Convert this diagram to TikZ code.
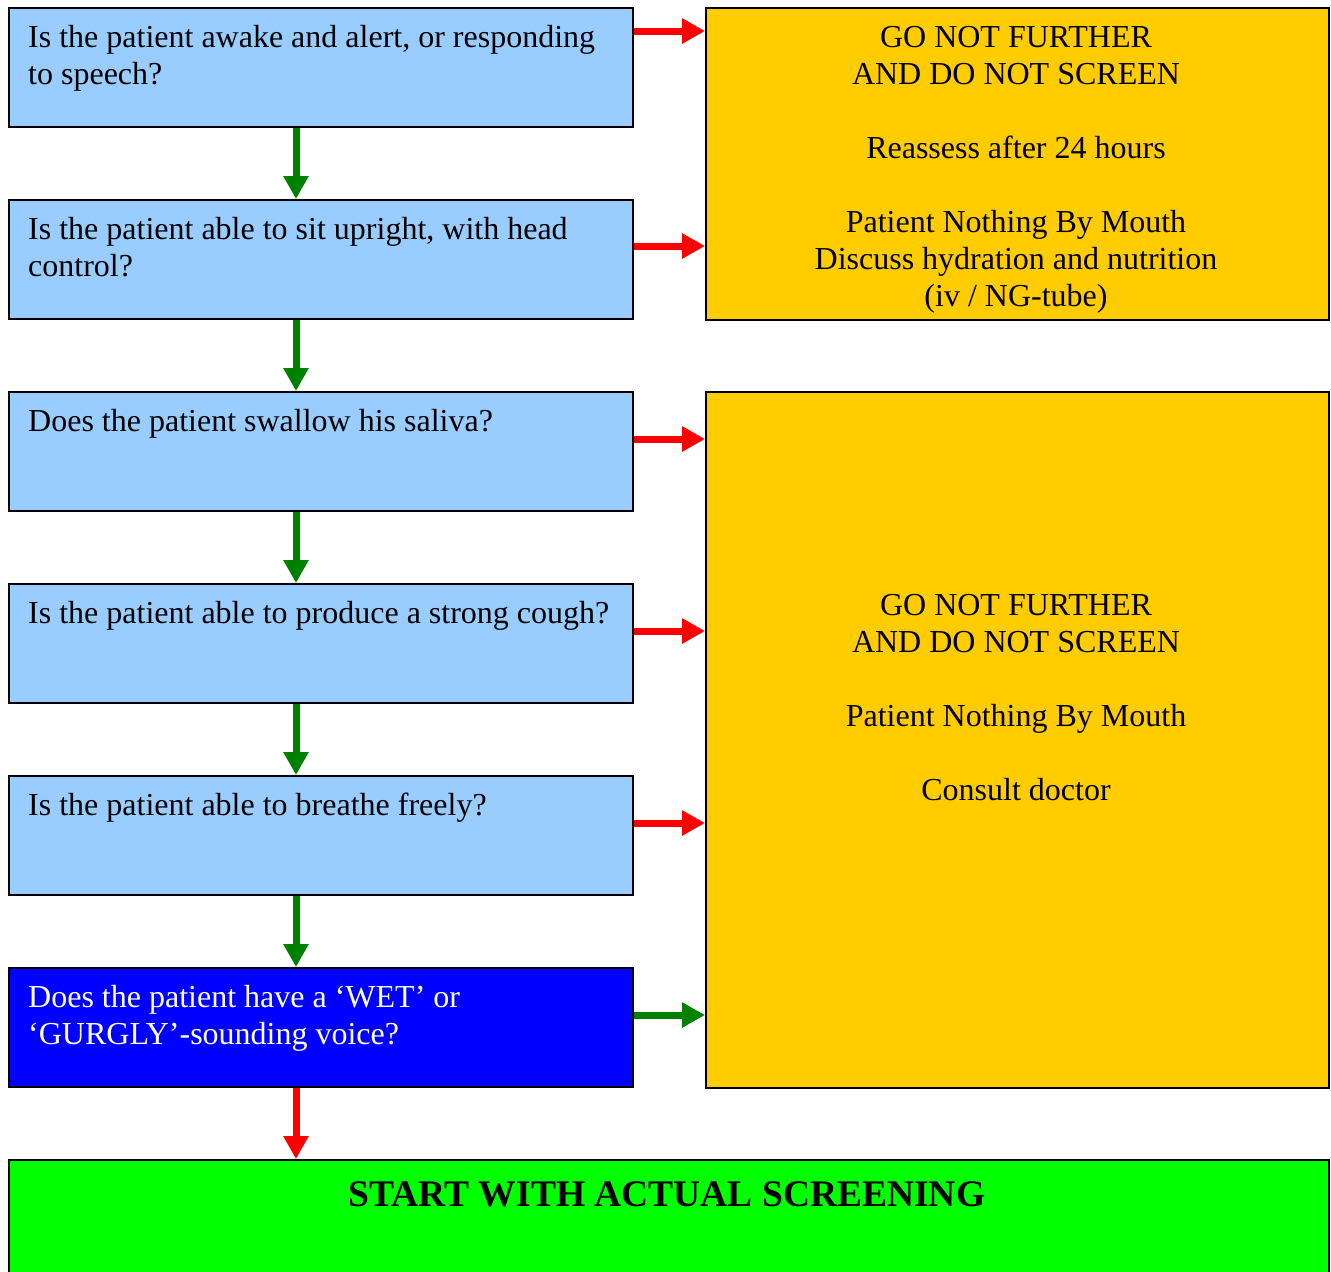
\documentclass[tikz,border=0pt]{standalone}
\usepackage{fontspec}
\setmainfont{Liberation Serif}
\usetikzlibrary{arrows.meta,calc}
\definecolor{qblue}{HTML}{99CCFF}
\definecolor{dblue}{HTML}{0000FF}
\definecolor{stopor}{HTML}{FFCC00}
\definecolor{gogreen}{HTML}{00FF00}
\definecolor{arrred}{HTML}{FF0000}
\definecolor{arrgreen}{HTML}{008000}
\tikzset{
  qbox/.style={draw=black, line width=2pt, fill=qblue, rectangle, inner sep=0pt,
    minimum width=624pt, minimum height=119pt, anchor=north west},
  obox/.style={draw=black, line width=2pt, fill=stopor, rectangle, inner sep=0pt,
    minimum width=623pt, anchor=north west},
  qtext/.style={font=\fontsize{32}{37.5}\selectfont, align=left, inner sep=0pt, anchor=north west},
  otext/.style={font=\fontsize{32}{37}\selectfont, align=center, inner sep=0pt, anchor=north},
  garrow/.style={draw=arrgreen, line width=7pt, -{Triangle[length=23pt,width=24pt]}},
  rarrow/.style={draw=arrred, line width=7pt, -{Triangle[length=23pt,width=24pt]}}
}
\begin{document}
\begin{tikzpicture}[x=1pt,y=1pt]
\useasboundingbox (0,0) rectangle (1331,-1272);
\clip (0,0) rectangle (1331,-1272);
% question boxes
\node[qbox] (q1) at (8,-7) {};
\node[qbox] (q2) at (8,-199) {};
\node[qbox] (q3) at (8,-391) {};
\node[qbox] (q4) at (8,-583) {};
\node[qbox] (q5) at (8,-775) {};
\node[qbox, fill=dblue] (q6) at (8,-967) {};
% outcome boxes
\node[obox, minimum height=312pt] (o1) at (705,-7) {};
\node[obox, minimum height=696pt] (o2) at (705,-391) {};
\node[draw=black, line width=2pt, fill=gogreen, rectangle, inner sep=0pt,
  minimum width=1320pt, minimum height=200pt, anchor=north west] (go) at (8,-1159) {};
% texts
\node[qtext] (t1) at ($(q1.north west)+(20,-18)$) {Is the patient awake and alert, or responding\\to speech?};
\node[qtext] (t2) at ($(q2.north west)+(20,-18)$) {Is the patient able to sit upright, with head\\control?};
\node[qtext] (t3) at ($(q3.north west)+(20,-18)$) {Does the patient swallow his saliva?};
\node[qtext] (t4) at ($(q4.north west)+(20,-18)$) {Is the patient able to produce a strong cough?};
\node[qtext] (t5) at ($(q5.north west)+(20,-18)$) {Is the patient able to breathe freely?};
\node[qtext, text=white] (t6) at ($(q6.north west)+(20,-18)$) {Does the patient have a ‘WET’ or\\‘GURGLY’-sounding voice?};
\node[otext] (ot1) at (1016,-26.5) {GO NOT FURTHER\\AND DO NOT SCREEN\\[37pt]Reassess after 24 hours\\[37pt]Patient Nothing By Mouth\\Discuss hydration and nutrition\\(iv / NG-tube)};
\node[otext] (ot2) at (1016,-594.5) {GO NOT FURTHER\\AND DO NOT SCREEN\\[37pt]Patient Nothing By Mouth\\[37pt]Consult doctor};
\node[font=\fontsize{37.5}{44}\selectfont\bfseries, inner sep=0pt, anchor=base] (gt) at (667,-1206) {START WITH ACTUAL SCREENING};
% down arrows
\foreach \a/\b in {q1/q2,q2/q3,q3/q4,q4/q5,q5/q6}{
  \coordinate (s\a) at ($(\a.south west)+(288,0)$);
  \draw[garrow] (s\a) -- (s\a |- \b.north);
}
\coordinate (sq6) at ($(q6.south west)+(288,0)$);
\draw[rarrow] (sq6) -- (sq6 |- go.north);
% side arrows
\coordinate (r1) at ($(q1.north east)+(0,-24)$);
\coordinate (r2) at ($(q2.north east)+(0,-47)$);
\coordinate (r3) at ($(q3.north east)+(0,-48)$);
\coordinate (r4) at ($(q4.north east)+(0,-48)$);
\coordinate (r5) at ($(q5.north east)+(0,-48)$);
\coordinate (r6) at ($(q6.north east)+(0,-48)$);
\draw[rarrow] (r1) -- (r1 -| o1.west);
\draw[rarrow] (r2) -- (r2 -| o1.west);
\draw[rarrow] (r3) -- (r3 -| o2.west);
\draw[rarrow] (r4) -- (r4 -| o2.west);
\draw[rarrow] (r5) -- (r5 -| o2.west);
\draw[garrow] (r6) -- (r6 -| o2.west);
\end{tikzpicture}
\end{document}
